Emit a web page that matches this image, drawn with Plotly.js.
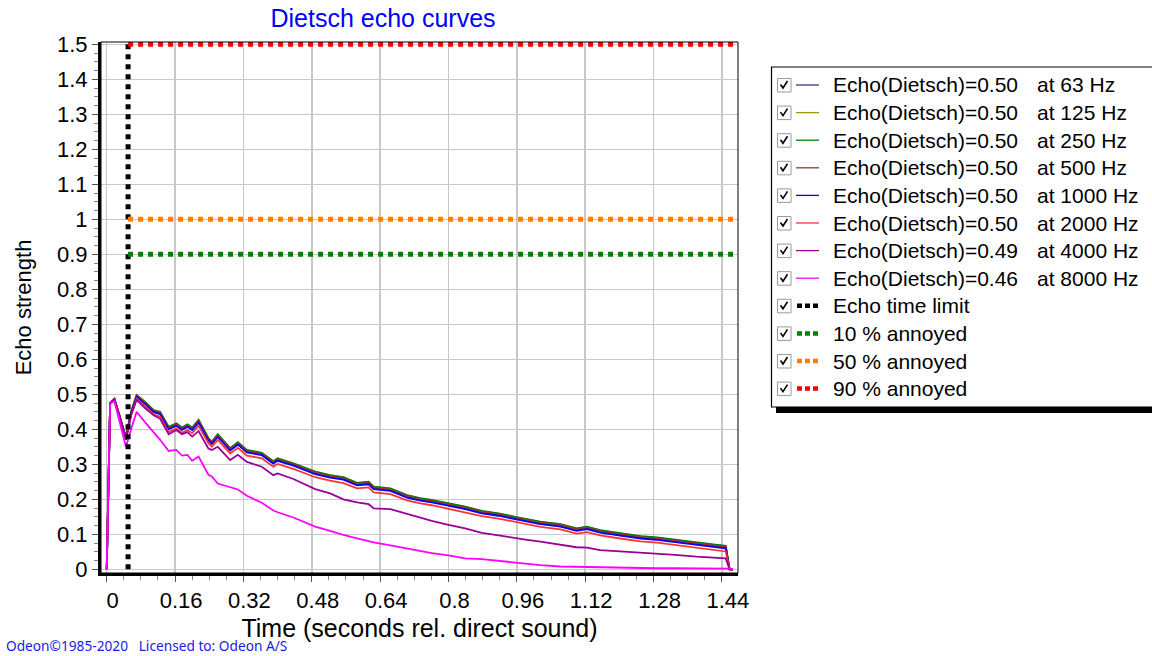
<!DOCTYPE html>
<html><head><meta charset="utf-8">
<script src="https://cdn.plot.ly/plotly-3.0.1.min.js"></script>
<style>html,body{margin:0;padding:0;background:#fff;overflow:hidden}#chart{width:1152px;height:656px}</style>
</head><body><div id="chart"></div>
<script>
// ---- data ----
const time = [0, 0.008, 0.018, 0.03, 0.045, 0.057, 0.07, 0.09, 0.11, 0.125, 0.145, 0.163, 0.176, 0.189, 0.2, 0.215, 0.238, 0.246, 0.26, 0.289, 0.307, 0.328, 0.363, 0.39, 0.40, 0.437, 0.488, 0.523, 0.554, 0.586, 0.613, 0.625, 0.664, 0.703, 0.734, 0.761, 0.80, 0.839, 0.878, 0.917, 0.956, 0.98, 1.015, 1.062, 1.10, 1.124, 1.155, 1.202, 1.25, 1.288, 1.33, 1.38, 1.42, 1.449, 1.458, 1.466];
const echo63 = [0, 0.475, 0.487, 0.44, 0.376, 0.447, 0.495, 0.475, 0.452, 0.446, 0.403, 0.414, 0.401, 0.410, 0.401, 0.423, 0.371, 0.361, 0.382, 0.342, 0.359, 0.337, 0.329, 0.305, 0.313, 0.299, 0.275, 0.265, 0.259, 0.243, 0.246, 0.232, 0.227, 0.208, 0.199, 0.194, 0.185, 0.175, 0.163, 0.156, 0.146, 0.140, 0.132, 0.125, 0.113, 0.118, 0.108, 0.099, 0.091, 0.087, 0.080, 0.073, 0.067, 0.063, 0, 0];
const echo125 = [0, 0.475, 0.486, 0.44, 0.377, 0.449, 0.497, 0.477, 0.454, 0.449, 0.406, 0.416, 0.404, 0.413, 0.404, 0.426, 0.374, 0.364, 0.385, 0.345, 0.362, 0.340, 0.332, 0.308, 0.316, 0.302, 0.278, 0.268, 0.262, 0.246, 0.249, 0.235, 0.230, 0.211, 0.202, 0.197, 0.188, 0.178, 0.166, 0.159, 0.149, 0.143, 0.135, 0.128, 0.116, 0.121, 0.111, 0.102, 0.094, 0.090, 0.083, 0.076, 0.070, 0.066, 0, 0];
const echo250 = [0, 0.475, 0.486, 0.44, 0.378, 0.45, 0.498, 0.478, 0.455, 0.45, 0.407, 0.417, 0.405, 0.414, 0.405, 0.427, 0.375, 0.365, 0.386, 0.346, 0.363, 0.341, 0.333, 0.309, 0.317, 0.303, 0.279, 0.269, 0.263, 0.247, 0.25, 0.236, 0.231, 0.212, 0.203, 0.198, 0.189, 0.179, 0.167, 0.16, 0.15, 0.144, 0.136, 0.129, 0.117, 0.122, 0.112, 0.103, 0.095, 0.091, 0.084, 0.077, 0.071, 0.067, 0, 0];
const echo500 = [0, 0.475, 0.486, 0.44, 0.376, 0.448, 0.496, 0.476, 0.453, 0.447, 0.404, 0.415, 0.402, 0.411, 0.402, 0.424, 0.372, 0.362, 0.383, 0.343, 0.360, 0.338, 0.330, 0.306, 0.314, 0.300, 0.276, 0.266, 0.260, 0.244, 0.247, 0.233, 0.228, 0.209, 0.200, 0.195, 0.186, 0.176, 0.164, 0.157, 0.147, 0.141, 0.133, 0.126, 0.114, 0.119, 0.109, 0.100, 0.092, 0.088, 0.081, 0.074, 0.068, 0.064, 0, 0];
const echo1000 = [0, 0.474, 0.485, 0.438, 0.374, 0.445, 0.493, 0.472, 0.449, 0.443, 0.400, 0.410, 0.398, 0.407, 0.398, 0.419, 0.368, 0.358, 0.378, 0.339, 0.356, 0.334, 0.326, 0.302, 0.310, 0.296, 0.272, 0.262, 0.256, 0.240, 0.243, 0.229, 0.224, 0.205, 0.196, 0.191, 0.182, 0.172, 0.160, 0.153, 0.143, 0.137, 0.129, 0.122, 0.110, 0.115, 0.105, 0.096, 0.088, 0.084, 0.077, 0.070, 0.064, 0.060, 0, 0];
const echo2000 = [0, 0.474, 0.484, 0.436, 0.37, 0.44, 0.488, 0.466, 0.442, 0.436, 0.392, 0.402, 0.39, 0.398, 0.389, 0.41, 0.36, 0.35, 0.37, 0.331, 0.347, 0.325, 0.317, 0.293, 0.301, 0.287, 0.263, 0.253, 0.246, 0.231, 0.234, 0.22, 0.215, 0.197, 0.188, 0.183, 0.173, 0.163, 0.152, 0.145, 0.135, 0.128, 0.121, 0.114, 0.102, 0.106, 0.097, 0.088, 0.08, 0.076, 0.069, 0.062, 0.055, 0.051, 0, 0];
const echo4000 = [0, 0.475, 0.486, 0.44, 0.37, 0.44, 0.484, 0.46, 0.44, 0.43, 0.386, 0.398, 0.386, 0.392, 0.379, 0.395, 0.345, 0.341, 0.35, 0.312, 0.327, 0.307, 0.293, 0.269, 0.274, 0.258, 0.229, 0.217, 0.2, 0.191, 0.186, 0.174, 0.172, 0.158, 0.148, 0.138, 0.127, 0.117, 0.104, 0.096, 0.089, 0.085, 0.079, 0.069, 0.063, 0.062, 0.055, 0.051, 0.048, 0.045, 0.041, 0.036, 0.033, 0.031, 0, 0];
const echo8000 = [0, 0.474, 0.48, 0.42, 0.35, 0.4, 0.45, 0.42, 0.393, 0.37, 0.338, 0.341, 0.325, 0.327, 0.31, 0.322, 0.27, 0.265, 0.245, 0.234, 0.228, 0.21, 0.19, 0.168, 0.163, 0.148, 0.122, 0.11, 0.098, 0.088, 0.08, 0.077, 0.068, 0.059, 0.053, 0.046, 0.04, 0.031, 0.029, 0.024, 0.018, 0.015, 0.012, 0.008, 0.007, 0.006, 0.006, 0.005, 0.004, 0.003, 0.003, 0.003, 0.003, 0.003, 0.002, 0];

const seriesValues = [echo63, echo125, echo250, echo500, echo1000, echo2000, echo4000, echo8000];
const seriesNames = ['Echo(Dietsch)=0.50', 'Echo(Dietsch)=0.50', 'Echo(Dietsch)=0.50', 'Echo(Dietsch)=0.50', 'Echo(Dietsch)=0.50', 'Echo(Dietsch)=0.50', 'Echo(Dietsch)=0.49', 'Echo(Dietsch)=0.46'];
const seriesFreqs = ['at 63 Hz', 'at 125 Hz', 'at 250 Hz', 'at 500 Hz', 'at 1000 Hz', 'at 2000 Hz', 'at 4000 Hz', 'at 8000 Hz'];
const seriesColors = ['#333399', '#999900', '#008000', '#993333', '#0000ff', '#ff3333', '#990099', '#ff00ff'];

const echoTimeLimit = 0.05;
const echoLimitTop = 1.5;
const annoyLevels = [0.9, 1.0, 1.5];
const annoyNames = ['10 % annoyed', '50 % annoyed', '90 % annoyed'];
const annoyColors = ['#008000', '#ff8000', '#ff0000'];
const limitLineEnd = 1.475;

const xTickVals = [0, 0.16, 0.32, 0.48, 0.64, 0.8, 0.96, 1.12, 1.28, 1.44];
const xTickText = ['0', '0.16', '0.32', '0.48', '0.64', '0.8', '0.96', '1.12', '1.28', '1.44'];
const yTickVals = [0, 0.1, 0.2, 0.3, 0.4, 0.5, 0.6, 0.7, 0.8, 0.9, 1, 1.1, 1.2, 1.3, 1.4, 1.5];
const yTickText = ['0', '0.1', '0.2', '0.3', '0.4', '0.5', '0.6', '0.7', '0.8', '0.9', '1', '1.1', '1.2', '1.3', '1.4', '1.5'];

// ---- geometry ----
const W = 1152, H = 656, L = 101, R = 738, T = 42, B = 573;
const px = x => (x - L) / (R - L);
const py = y => (B - y) / (B - T);
const FONT = 'Liberation Sans, Arial, sans-serif';

const traces = [];
seriesValues.forEach((vals, i) => {
  traces.push({x: time, y: vals, type: 'scatter', mode: 'lines', name: seriesNames[i] + ' ' + seriesFreqs[i],
    line: {color: seriesColors[i], width: 1.8}, showlegend: false, hoverinfo: 'skip'});
});
traces.push({x: [echoTimeLimit, echoTimeLimit], y: [0, echoLimitTop], type: 'scatter', mode: 'lines', name: 'Echo time limit',
  line: {color: '#000000', width: 5, dash: '5px,5px'}, showlegend: false});
annoyLevels.forEach((lv, i) => {
  traces.push({x: [echoTimeLimit, limitLineEnd], y: [lv, lv], type: 'scatter', mode: 'lines', name: annoyNames[i],
    line: {color: annoyColors[i], width: 5, dash: '5px,5px'}, showlegend: false, cliponaxis: false});
});

// ---- custom legend ----
const shapes = [
  {type: 'rect', xref: 'paper', yref: 'paper', x0: 0, x1: 1, y0: 0, y1: 1, line: {color: '#000', width: 1}, layer: 'above'},
  {type: 'rect', xref: 'paper', yref: 'paper', x0: px(776), x1: px(1170), y0: py(413), y1: py(72), fillcolor: '#000', line: {width: 0}},
  {type: 'rect', xref: 'paper', yref: 'paper', x0: px(771.5), x1: px(1165), y0: py(407), y1: py(67), fillcolor: '#fff', line: {color: '#000', width: 1.2}}
];
const annotations = [];
const legendItems = [];
seriesNames.forEach((n, i) => legendItems.push({name: n, freq: seriesFreqs[i], color: seriesColors[i], dotted: false}));
legendItems.push({name: 'Echo time limit', freq: '', color: '#000000', dotted: true});
annoyNames.forEach((n, i) => legendItems.push({name: n, freq: '', color: annoyColors[i], dotted: true}));

legendItems.forEach((it, i) => {
  const ry = 85 + i * 27.6;
  shapes.push({type: 'rect', xref: 'paper', yref: 'paper', x0: px(777.5), x1: px(791), y0: py(ry + 7), y1: py(ry - 6.5),
    fillcolor: '#fff', line: {color: '#9a9a9a', width: 1}});
  shapes.push({type: 'path', xref: 'paper', yref: 'paper',
    path: `M ${px(780.5)} ${py(ry - 0.5)} L ${px(783)} ${py(ry + 3)} L ${px(787.5)} ${py(ry - 4)}`,
    line: {color: '#000', width: 1.6}});
  if (it.dotted) {
    shapes.push({type: 'line', xref: 'paper', yref: 'paper', x0: px(797), x1: px(819), y0: py(ry), y1: py(ry),
      line: {color: it.color, width: 4.5, dash: '5px,3px'}});
  } else {
    shapes.push({type: 'line', xref: 'paper', yref: 'paper', x0: px(796), x1: px(819), y0: py(ry), y1: py(ry),
      line: {color: it.color, width: 1.3}});
  }
  annotations.push({xref: 'paper', yref: 'paper', x: px(831), y: py(ry), xanchor: 'left', yanchor: 'middle',
    text: it.name, showarrow: false, font: {family: FONT, size: 21, color: '#000'}});
  if (it.freq) {
    annotations.push({xref: 'paper', yref: 'paper', x: px(1035), y: py(ry), xanchor: 'left', yanchor: 'middle',
      text: it.freq, showarrow: false, font: {family: FONT, size: 21, color: '#000'}});
  }
});

annotations.push({xref: 'paper', yref: 'paper', x: px(5), y: py(645), xanchor: 'left', yanchor: 'middle', borderpad: 0,
  text: 'Odeon©1985-2020\u00a0\u00a0\u00a0Licensed to: Odeon A/S', showarrow: false,
  font: {family: 'Noto Sans, DejaVu Sans, sans-serif', size: 13.7, color: '#1a1ae6'}});

const layout = {
  width: W, height: H,
  margin: {l: L, r: W - R, t: T, b: H - B, pad: 0},
  paper_bgcolor: '#fff', plot_bgcolor: '#fff',
  showlegend: false,
  font: {family: FONT, color: '#000'},
  title: {text: 'Dietsch echo curves', font: {family: FONT, size: 25, color: '#0000ff'},
    xref: 'paper', x: px(383), xanchor: 'center', yref: 'container', y: 1 - 18 / H, yanchor: 'middle'},
  xaxis: {
    range: [-0.0134, 1.4777], tickmode: 'array', tickvals: xTickVals, ticktext: xTickText,
    showgrid: true, gridcolor: '#c8c8c8', gridwidth: 1.5, zeroline: false,
    showline: true, linecolor: '#000', linewidth: 3,
    ticks: 'outside', ticklen: 6, tickcolor: '#555', tickwidth: 1,
    tickfont: {family: FONT, size: 22, color: '#000'}, ticklabelshift: 6,
    minor: {tickmode: 'linear', tick0: 0, dtick: 0.04, ticks: 'outside', ticklen: 4, tickcolor: '#888', showgrid: false},
    title: {text: 'Time (seconds rel. direct sound)', font: {family: FONT, size: 25, color: '#000'}, standoff: 8},
    automargin: false, fixedrange: true
  },
  yaxis: {
    range: [-0.0106, 1.5066], tickmode: 'array', tickvals: yTickVals, ticktext: yTickText,
    showgrid: true, gridcolor: '#c8c8c8', gridwidth: 1.5, zeroline: false,
    showline: true, linecolor: '#000', linewidth: 3,
    ticks: 'outside', ticklen: 6, tickcolor: '#555', tickwidth: 1,
    tickfont: {family: FONT, size: 22, color: '#000'},
    minor: {tickmode: 'linear', tick0: 0, dtick: 0.025, ticks: 'outside', ticklen: 4, tickcolor: '#888', showgrid: false},
    title: {text: 'Echo strength', font: {family: FONT, size: 22, color: '#000'}, standoff: 20},
    automargin: false, fixedrange: true
  },
  shapes: shapes,
  annotations: annotations
};

Plotly.newPlot('chart', traces, layout, {staticPlot: true, displayModeBar: false});
</script>
</body></html>
